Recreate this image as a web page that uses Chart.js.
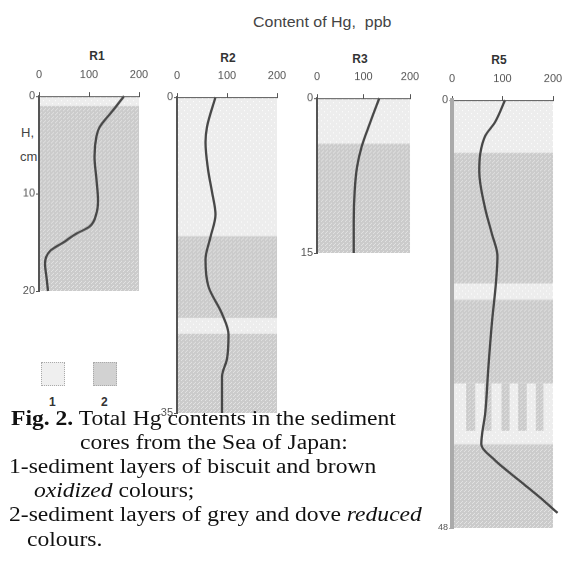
<!DOCTYPE html>
<html>
<head>
<meta charset="utf-8">
<script src="https://cdn.jsdelivr.net/npm/chart.js@4.4.1/dist/chart.umd.min.js"></script>
<style>
  body { margin: 0; background: #fff; width: 564px; height: 586px; overflow: hidden; position: relative;
         font-family: "Liberation Sans", Arial, sans-serif; }
  canvas { position: absolute; }
  .t { position: absolute; color: #444; white-space: nowrap; line-height: 1; }
  .core { font-weight: bold; font-size: 12px; color: #333; transform: translateX(-50%); }
  .cap { position: absolute; font-family: "Liberation Serif", "Times New Roman", serif; font-size: 20.5px;
         line-height: 24px; color: #111; white-space: nowrap; transform: scaleX(1.15); transform-origin: 0 0; }
  .box { position: absolute; width: 22px; height: 22px; border: 1px dotted #aaa; }
</style>
</head>
<body>

<div class="t" style="left:253px;top:15px;font-size:14px;transform:scaleX(1.14);transform-origin:0 0;">Content of Hg,&nbsp; ppb</div>
<div class="t core" style="left:97px;top:50px;">R1</div>
<div class="t core" style="left:228px;top:52px;">R2</div>
<div class="t core" style="left:360px;top:53px;">R3</div>
<div class="t core" style="left:499px;top:54px;">R5</div>
<div class="t" style="left:21px;top:126px;font-size:13px;">H,</div>
<div class="t" style="left:20px;top:150px;font-size:13px;">cm</div>

<canvas id="r1"></canvas>
<canvas id="r2"></canvas>
<canvas id="r3"></canvas>
<canvas id="r5"></canvas>

<div class="box" style="left:41px;top:362px;background:#efefef;"></div>
<div class="box" style="left:93px;top:362px;background:#d2d2d2;"></div>
<div class="t" style="left:49px;top:396px;font-size:12px;font-weight:bold;color:#333;">1</div>
<div class="t" style="left:101px;top:396px;font-size:12px;font-weight:bold;color:#333;">2</div>

<div class="cap" style="left:11px;top:406px;"><b>Fig. 2.</b> Total Hg contents in the sediment</div>
<div class="cap" style="left:80px;top:430px;">cores from the Sea of Japan:</div>
<div class="cap" style="left:9px;top:454px;">1-sediment layers of biscuit and brown</div>
<div class="cap" style="left:34px;top:478px;"><i>oxidized</i> colours;</div>
<div class="cap" style="left:9px;top:502px;">2-sediment layers of grey and dove <i>reduced</i></div>
<div class="cap" style="left:27px;top:527px;">colours.</div>

<script>
// Hg contents (ppb) vs depth (cm) for each core
const hgTicks = [0, 100, 200];

const r1Depth = [0, 1.4, 3.2, 4.1, 6.2, 8.6, 10.7, 12, 13.4, 14.1, 15, 15.9, 17.2, 18.6, 20];
const r1Hg    = [170, 149, 121, 115, 111, 115, 118, 115, 101, 75, 49, 22, 12, 15, 18];
const r1Layers = [[0, 1, 1], [1, 20, 2]];
const r1Ticks = [0, 10, 20];

const r2Depth = [0, 3.3, 5, 8, 10.5, 13, 15.5, 18, 21, 24, 26.3, 29, 31, 35];
const r2Hg    = [77, 60, 57, 62, 70, 77, 67, 57, 63, 90, 103, 100, 90, 90];
const r2Layers = [[0, 15.4, 1], [15.4, 24.5, 2], [24.5, 26.2, 1], [26.2, 35, 2]];
const r2Ticks = [0, 35];

const r3Depth = [0, 2.4, 4.7, 6.7, 9, 12, 15];
const r3Hg    = [134, 114, 96, 86, 81, 79, 79];
const r3Layers = [[0, 4.4, 1], [4.4, 15, 2]];
const r3Ticks = [0, 15];

const r5Depth = [0, 2.5, 4, 6, 8, 12, 15, 17.5, 20.5, 25, 30, 35, 38.6, 40.4, 42.7, 45, 46.3];
const r5Hg    = [105, 85, 66, 56, 54, 65, 79, 90, 87, 79, 72, 66, 58, 85, 134, 183, 209];
const r5Layers = [[0, 5.9, 1], [5.9, 20.6, 2], [20.6, 22.4, 1], [22.4, 31.8, 2],
                  [31.8, 37.1, 3], [37.1, 38.6, 1], [38.6, 48, 2]];
const r5Stripes = [[28, 46], [64, 78], [98, 114], [131, 148], [166, 181]];  // dark stripes in layer 3
const r5Ticks = [0, 48];

const fontFam = '"Liberation Sans", Arial, sans-serif';

// stippled fills
function makePattern(base, dot, size, dots) {
  const c = document.createElement('canvas');
  c.width = c.height = size;
  const g = c.getContext('2d');
  g.fillStyle = base;
  g.fillRect(0, 0, size, size);
  g.fillStyle = dot;
  dots.forEach(d => g.fillRect(d[0], d[1], 1, 1));
  return g.createPattern(c, 'repeat');
}

let patLight, patDark;

const layerPlugin = {
  id: 'layers',
  beforeDraw(chart, args, opts) {
    const { ctx, scales: { x, y } } = chart;
    if (!patLight) {
      patLight = makePattern('#ededed', '#ffffff', 6, [[1, 1], [4, 4]]);
      patDark = makePattern('#cbcbcb', '#e3e3e3', 4, [[0, 0], [2, 2], [1, 3]]);
    }
    const l = x.getPixelForValue(0), r = x.getPixelForValue(200);
    ctx.save();
    opts.layers.forEach(([a, b, k]) => {
      const top = y.getPixelForValue(a), bot = y.getPixelForValue(b);
      ctx.fillStyle = k === 2 ? patDark : patLight;
      ctx.fillRect(l, top, r - l, bot - top);
      if (k === 3) {
        ctx.fillStyle = patDark;
        (opts.stripes || []).forEach(([s0, s1]) => {
          const p0 = x.getPixelForValue(s0), p1 = x.getPixelForValue(s1);
          ctx.fillRect(p0, top, p1 - p0, bot - top);
        });
      }
    });
    ctx.restore();
  }
};

function drawCore(id, depth, hg, layers, stripes, maxDepth, depthTicks, area, axisColor, axisWidth) {
  const canvas = document.getElementById(id);
  const padR = 14, padB = 6, yW = 24, xH = 30;
  canvas.width = area.w + yW + padR;
  canvas.height = area.h + xH + padB;

  const chart = new Chart(canvas, {
    type: 'scatter',
    data: {
      datasets: [{
        data: depth.map((d, i) => ({ x: hg[i], y: d })),
        showLine: true,
        borderColor: '#474747',
        borderWidth: 2.3,
        pointRadius: 0,
        cubicInterpolationMode: 'monotone',
        clip: false,
        fill: false
      }]
    },
    options: {
      indexAxis: 'y',
      responsive: false,
      maintainAspectRatio: false,
      animation: false,
      events: [],
      layout: { padding: { left: 0, top: 0, right: padR, bottom: padB } },
      plugins: {
        legend: { display: false },
        tooltip: { enabled: false },
        layers: { layers: layers, stripes: stripes }
      },
      scales: {
        x: {
          type: 'linear', position: 'top', min: 0, max: 200,
          afterBuildTicks: s => { s.ticks = hgTicks.map(v => ({ value: v })); },
          afterFit: s => { s.height = xH; },
          ticks: { font: { size: 11, family: fontFam }, color: '#555', padding: 10, maxRotation: 0 },
          grid: { drawOnChartArea: false, tickLength: 4, color: '#555', lineWidth: 1 },
          border: { color: '#555', width: 1 }
        },
        y: {
          type: 'linear', position: 'left', reverse: true, min: 0, max: maxDepth,
          afterBuildTicks: s => { s.ticks = depthTicks.map(v => ({ value: v })); },
          afterFit: s => { s.width = yW; },
          ticks: {
            font: c => ({ size: (c.tick && c.tick.value === 48) ? 9 : 11, family: fontFam }),
            color: '#555', padding: 1
          },
          grid: { drawOnChartArea: false, tickLength: 3, color: axisColor, lineWidth: 1 },
          border: { color: axisColor, width: axisWidth }
        }
      }
    },
    plugins: [layerPlugin]
  });

  // fit the plot area to the wanted size, then place it on the page
  let ca = chart.chartArea;
  const dw = area.w - (ca.right - ca.left), dh = area.h - (ca.bottom - ca.top);
  if (dw !== 0 || dh !== 0) {
    chart.resize(canvas.width + dw, canvas.height + dh);
    ca = chart.chartArea;
  }
  canvas.style.left = (area.x - ca.left) + 'px';
  canvas.style.top = (area.y - ca.top) + 'px';
  return chart;
}

drawCore('r1', r1Depth, r1Hg, r1Layers, null, 20, r1Ticks, { x: 39, y: 96, w: 100, h: 194 }, '#555', 2);
drawCore('r2', r2Depth, r2Hg, r2Layers, null, 35, r2Ticks, { x: 177, y: 97, w: 100, h: 315 }, '#555', 2);
drawCore('r3', r3Depth, r3Hg, r3Layers, null, 15, r3Ticks, { x: 317, y: 98, w: 93, h: 154 }, '#555', 2);
drawCore('r5', r5Depth, r5Hg, r5Layers, r5Stripes, 48, r5Ticks, { x: 452, y: 100, w: 101, h: 427 }, '#aaa', 4);
</script>
</body>
</html>
